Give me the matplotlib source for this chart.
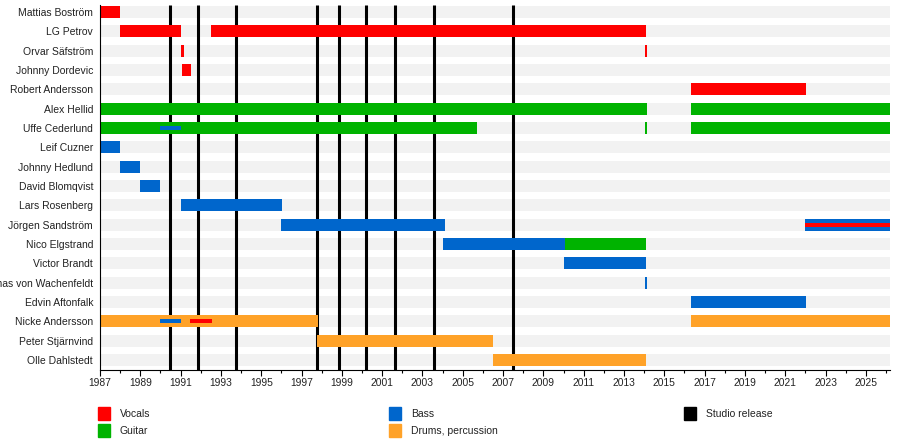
import matplotlib
matplotlib.use("Agg")
import matplotlib.pyplot as plt
from matplotlib.patches import Rectangle
from matplotlib.ticker import MultipleLocator

plt.rcParams['font.family'] = ['Liberation Sans', 'DejaVu Sans']

## data
members = ["Mattias Boström", "LG Petrov", "Orvar Säfström", "Johnny Dordevic",
           "Robert Andersson", "Alex Hellid", "Uffe Cederlund", "Leif Cuzner",
           "Johnny Hedlund", "David Blomqvist", "Lars Rosenberg", "Jörgen Sandström",
           "Nico Elgstrand", "Victor Brandt", "Thomas von Wachenfeldt",
           "Edvin Aftonfalk", "Nicke Andersson", "Peter Stjärnvind", "Olle Dahlstedt"]

START = 1987.0
END = 2026.2   # "present"

# main roles: (member, role, from, to)
periods = [
    ("Mattias Boström", "Vocals", 1987.0, 1988.0),
    ("LG Petrov", "Vocals", 1988.0, 1991.0),
    ("LG Petrov", "Vocals", 1992.5, 2014.1),
    ("Orvar Säfström", "Vocals", 1991.0, 1991.15),
    ("Orvar Säfström", "Vocals", 2014.05, 2014.15),
    ("Johnny Dordevic", "Vocals", 1991.05, 1991.5),
    ("Robert Andersson", "Vocals", 2016.35, 2022.05),
    ("Alex Hellid", "Guitar", 1987.0, 2014.15),
    ("Alex Hellid", "Guitar", 2016.35, END),
    ("Uffe Cederlund", "Guitar", 1987.0, 2005.7),
    ("Uffe Cederlund", "Guitar", 2014.05, 2014.15),
    ("Uffe Cederlund", "Guitar", 2016.35, END),
    ("Leif Cuzner", "Bass", 1987.0, 1988.0),
    ("Johnny Hedlund", "Bass", 1988.0, 1989.0),
    ("David Blomqvist", "Bass", 1989.0, 1990.0),
    ("Lars Rosenberg", "Bass", 1991.0, 1996.05),
    ("Jörgen Sandström", "Bass", 1996.0, 2004.1),
    ("Jörgen Sandström", "Bass", 2022.0, END),
    ("Nico Elgstrand", "Bass", 2004.0, 2010.05),
    ("Nico Elgstrand", "Guitar", 2010.05, 2014.1),
    ("Victor Brandt", "Bass", 2010.0, 2014.1),
    ("Thomas von Wachenfeldt", "Bass", 2014.05, 2014.15),
    ("Edvin Aftonfalk", "Bass", 2016.35, 2022.05),
    ("Nicke Andersson", "Drums, percussion", 1987.0, 1997.8),
    ("Nicke Andersson", "Drums, percussion", 2016.35, END),
    ("Peter Stjärnvind", "Drums, percussion", 1997.75, 2006.5),
    ("Olle Dahlstedt", "Drums, percussion", 2006.5, 2014.1),
]

# secondary roles, drawn as thin stripes
extra_periods = [
    ("Uffe Cederlund", "Bass", 1990.0, 1991.0),
    ("Nicke Andersson", "Bass", 1990.0, 1991.0),
    ("Nicke Andersson", "Vocals", 1991.45, 1992.55),
    ("Jörgen Sandström", "Vocals", 2022.0, END),
]

releases = [1990.47, 1991.87, 1993.75, 1997.78, 1998.86, 2000.2, 2001.66, 2003.56, 2007.49]

colors = {"Vocals": "#ff0000", "Guitar": "#00b300", "Bass": "#0066cc",
          "Drums, percussion": "#ffa228"}

## plot
fig = plt.figure(figsize=(9, 4.45), dpi=100)
ax = fig.add_axes([100/900, 1 - 370/445, 790/900, 365/445])

rows = {m: i for i, m in enumerate(members)}
n = len(members)

ax.barh(range(n), END - START, left=START, height=0.62, color="#f2f2f2", zorder=0)
ax.vlines(releases, -0.36, n - 0.48, color="black", lw=2.2, zorder=1)

for name, role, a, b in periods:
    ax.barh(rows[name], b - a, left=a, height=0.62, color=colors[role], zorder=2)
for name, role, a, b in extra_periods:
    ax.barh(rows[name], b - a, left=a, height=0.2, color=colors[role], zorder=3)

ax.set_xlim(START, END)
ax.set_ylim(n - 0.48, -0.36)
ax.set_yticks(range(n))
ax.set_yticklabels(members, fontsize=7.5, color="#222222")
ax.tick_params(axis="y", length=0, pad=5)
ax.xaxis.set_major_locator(MultipleLocator(2))
ax.xaxis.set_minor_locator(MultipleLocator(1))
ax.set_xticks(range(1987, 2026, 2))
ax.tick_params(axis="x", which="major", length=4, width=0.8, labelsize=7.4,
               labelcolor="#222222", pad=1.5)
ax.tick_params(axis="x", which="minor", length=2, width=0.8)
for s in ["top", "right"]:
    ax.spines[s].set_visible(False)
ax.spines["left"].set_linewidth(0.8)
ax.spines["bottom"].set_linewidth(0.8)

# legend
legend_items = [("Vocals", colors["Vocals"], 98, 407),
                ("Guitar", colors["Guitar"], 98, 424),
                ("Bass", colors["Bass"], 389, 407),
                ("Drums, percussion", colors["Drums, percussion"], 389, 424),
                ("Studio release", "black", 684, 407)]
for label, c, px, py in legend_items:
    fig.add_artist(Rectangle((px/900, 1 - (py + 13)/445), 12/900, 13/445,
                             color=c, transform=fig.transFigure))
    fig.text((px + 22)/900, 1 - (py + 7)/445, label, fontsize=7.5,
             color="#222222", va="center", ha="left")

plt.savefig("out.png", dpi=100)
